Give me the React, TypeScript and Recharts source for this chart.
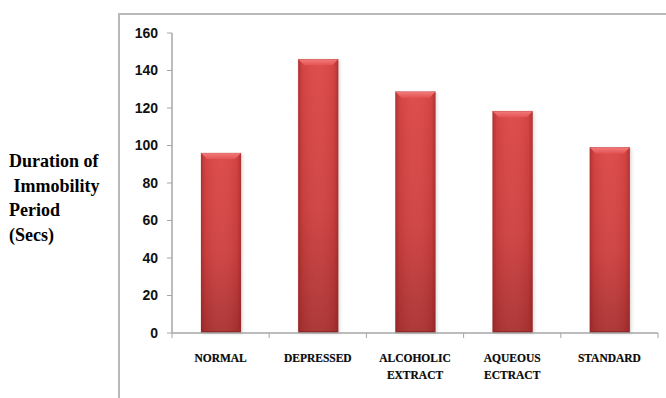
import React from 'react';
import { BarChart, Bar, XAxis, YAxis } from 'recharts';

// Forced swim test: duration of immobility per group (seconds)
const categories = ['NORMAL', 'DEPRESSED', 'ALCOHOLIC EXTRACT', 'AQUEOUS ECTRACT', 'STANDARD'];
const durations = [96, 146, 128.7, 118.3, 99];
const yTicks = [0, 20, 40, 60, 80, 100, 120, 140, 160];
const yTitleLines = ['Duration of', ' Immobility', 'Period', '(Secs)'];

const data = categories.map((name, i) => ({ name, value: durations[i] }));

const W = 666;
const H = 398;
const M = { top: 33, right: 8, bottom: 15, left: 112 };
const Y_AXIS_W = 60;
const X_AXIS_H = 50;
const PLOT_W = W - M.left - M.right - Y_AXIS_W;
const BAND = PLOT_W / categories.length;
const AXIS_GREY = '#a6a6a6';

// Beveled, shaded bar
const BevelBar = (props: any) => {
  const { x, y, width, height } = props;
  if (!height || height <= 0) return null;
  const b = Math.min(6, width / 6);
  return (
    <g>
      <rect x={x + 2} y={y + 1} width={width} height={height} fill="#000" opacity={0.12} filter="url(#barShadow)" />
      <rect x={x} y={y} width={width} height={height} fill="url(#barBody)" />
      <rect x={x} y={y} width={width} height={height} fill="url(#barSides)" />
      <polygon
        points={`${x},${y} ${x + width},${y} ${x + width - b},${y + b} ${x + b},${y + b}`}
        fill="url(#barTop)"
      />
      <polygon
        points={`${x},${y + height} ${x + width},${y + height} ${x + width - 2},${y + height - 2} ${x + 2},${y + height - 2}`}
        fill="#7f2323"
        opacity={0.6}
      />
      <rect x={x} y={y} width={width} height={height} fill="none" stroke="#a83434" strokeOpacity={0.35} strokeWidth={0.6} />
    </g>
  );
};

const CategoryTick = (props: any) => {
  const { x, y, payload, index } = props;
  const words: string[] = String(payload.value).split(' ');
  const top = y - 5;
  return (
    <g>
      <line x1={x - BAND / 2} x2={x - BAND / 2} y1={top} y2={top + 5} stroke={AXIS_GREY} strokeWidth={1} />
      {index === categories.length - 1 && (
        <line x1={x + BAND / 2} x2={x + BAND / 2} y1={top} y2={top + 5} stroke={AXIS_GREY} strokeWidth={1} />
      )}
      <text
        x={x}
        y={y + 24}
        textAnchor="middle"
        fontFamily="'Liberation Serif', 'DejaVu Serif', serif"
        fontWeight="bold"
        fontSize={11.5}
        fill="#0a0a0a"
        stroke="#0a0a0a"
        strokeWidth={0.2}
      >
        {words.map((w, i) => (
          <tspan key={i} x={x} dy={i === 0 ? 0 : 17}>
            {w}
          </tspan>
        ))}
      </text>
    </g>
  );
};

export default function App() {
  return (
    <div
      style={{
        position: 'absolute',
        left: 0,
        top: 0,
        width: W,
        height: H,
        overflow: 'hidden',
        background: '#fff',
      }}
    >
      <div
        style={{
          position: 'absolute',
          left: 118,
          top: 13,
          width: 700,
          height: 500,
          border: '2px solid #b9b9b9',
          boxSizing: 'border-box',
        }}
      />
      <div
        style={{
          position: 'absolute',
          left: 9,
          top: 149,
          fontFamily: "'Liberation Serif', 'Times New Roman', serif",
          fontWeight: 'bold',
          fontSize: 18,
          lineHeight: '24.5px',
          color: '#000',
          whiteSpace: 'pre',
        }}
      >
        {yTitleLines.map((t, i) => (
          <div key={i}>{t}</div>
        ))}
      </div>
      <div style={{ position: 'absolute', left: 0, top: 0 }}>
        <BarChart width={W} height={H} data={data} margin={M} barSize={40}>
          <defs>
            <linearGradient id="barBody" x1="0" y1="0" x2="0" y2="1">
              <stop offset="0%" stopColor="#dc4646" />
              <stop offset="55%" stopColor="#cf4040" />
              <stop offset="100%" stopColor="#a93131" />
            </linearGradient>
            <linearGradient id="barSides" x1="0" y1="0" x2="1" y2="0">
              <stop offset="0%" stopColor="#7a1d1d" stopOpacity={0.45} />
              <stop offset="10%" stopColor="#7a1d1d" stopOpacity={0.1} />
              <stop offset="50%" stopColor="#ffffff" stopOpacity={0.04} />
              <stop offset="90%" stopColor="#7a1d1d" stopOpacity={0.1} />
              <stop offset="100%" stopColor="#7a1d1d" stopOpacity={0.45} />
            </linearGradient>
            <linearGradient id="barTop" x1="0" y1="0" x2="0" y2="1">
              <stop offset="0%" stopColor="#f47a7a" />
              <stop offset="100%" stopColor="#e25454" />
            </linearGradient>
            <filter id="barShadow" x="-20%" y="-5%" width="140%" height="110%">
              <feGaussianBlur stdDeviation="1.5" />
            </filter>
          </defs>
          <XAxis
            dataKey="name"
            height={X_AXIS_H}
            interval={0}
            tickLine={false}
            tickSize={5}
            tickMargin={0}
            axisLine={{ stroke: AXIS_GREY, strokeWidth: 1.5 }}
            tick={<CategoryTick />}
          />
          <YAxis
            width={Y_AXIS_W}
            domain={[0, 160]}
            ticks={yTicks}
            interval={0}
            tickSize={5}
            tickMargin={9}
            axisLine={{ stroke: AXIS_GREY, strokeWidth: 1.5 }}
            tickLine={{ stroke: AXIS_GREY }}
            tick={{
              fill: '#111',
              fontSize: 14,
              fontWeight: 'bold',
              fontFamily: "'Liberation Sans', Arial, sans-serif",
            }}
          />
          <Bar dataKey="value" shape={<BevelBar />} isAnimationActive={false} />
        </BarChart>
      </div>
    </div>
  );
}
